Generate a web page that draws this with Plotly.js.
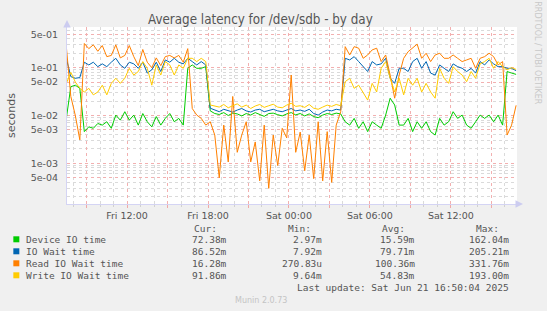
<!DOCTYPE html>
<html>
<head>
<meta charset="utf-8">
<script src="https://cdn.plot.ly/plotly-3.0.1.min.js"></script>
<style>html,body{margin:0;padding:0;background:#F0F0F0;}#chart{width:547px;height:311px;}</style>
</head>
<body>
<div id="chart"></div>
<script>
// ---- data (20-minute samples from Fri 2025-06-20 07:30) ----
const seriesStart = '2025-06-20T07:30:00Z';
const stepMinutes = 20;

const seriesNames = ['Device IO time', 'IO Wait time', 'Read IO Wait time', 'Write IO Wait time'];
const seriesColors = ['#00CC00', '#0066B3', '#FF8000', '#FFCC00'];

const deviceIO = [0.0087,0.04,0.043,0.037,0.0046,0.0058,0.0054,0.0068,0.0063,0.0074,
  0.0054,0.0102,0.008,0.012,0.008,0.0102,0.0063,0.011,0.0074,0.0058,
  0.0095,0.0063,0.0087,0.011,0.0074,0.0087,0.0063,0.097,0.114,0.097,
  0.097,0.105,0.0125,0.011,0.0105,0.0115,0.01,0.0112,0.0108,0.0098,
  0.011,0.0102,0.0115,0.0105,0.0096,0.011,0.0112,0.0104,0.0098,0.0108,
  0.0115,0.0103,0.011,0.0098,0.0108,0.0095,0.009,0.0102,0.011,0.0105,
  0.0112,0.0108,0.0074,0.0063,0.0087,0.0054,0.0074,0.0046,0.0074,0.0063,
  0.0054,0.0102,0.023,0.0166,0.0063,0.0063,0.0087,0.0046,0.0074,0.0054,
  0.0074,0.0046,0.0039,0.0087,0.0063,0.0074,0.012,0.0087,0.0102,0.0063,
  0.0054,0.0074,0.0102,0.0087,0.0102,0.0074,0.0102,0.0063,0.083,0.077,
  0.0724];

const ioWait = [0.157,0.065,0.06,0.062,0.13,0.114,0.13,0.105,0.12,0.105,
  0.13,0.157,0.114,0.097,0.13,0.12,0.097,0.13,0.077,0.09,
  0.13,0.083,0.145,0.13,0.157,0.13,0.12,0.157,0.134,0.114,
  0.134,0.114,0.0142,0.013,0.012,0.0135,0.0125,0.0118,0.013,0.014,
  0.0125,0.0118,0.013,0.0135,0.012,0.0128,0.0135,0.0125,0.012,0.013,
  0.014,0.0125,0.013,0.0122,0.0135,0.011,0.0102,0.0118,0.013,0.0125,
  0.0135,0.013,0.157,0.145,0.17,0.134,0.105,0.083,0.134,0.114,
  0.12,0.157,0.06,0.047,0.097,0.097,0.083,0.134,0.157,0.097,
  0.134,0.077,0.07,0.114,0.097,0.083,0.12,0.105,0.097,0.083,
  0.097,0.077,0.134,0.114,0.145,0.12,0.105,0.105,0.097,0.097,
  0.0865];

const readWait = [0.275,0.025,0.01,0.0031,0.32,0.25,0.3,0.22,0.29,0.17,
  0.18,0.3,0.16,0.18,0.29,0.17,0.11,0.24,0.13,0.1,
  0.16,0.11,0.17,0.18,0.16,0.18,0.13,0.25,0.014,0.0102,
  0.0087,0.0063,0.0074,0.0039,0.0005,0.0063,0.00107,0.025,0.0017,0.0039,
  0.0074,0.00107,0.0028,0.00043,0.0063,0.0003,0.0039,0.0009,0.0054,0.0034,
  0.07,0.0017,0.0045,0.0007,0.0039,0.00048,0.0074,0.00043,0.0046,0.0004,
  0.0063,0.012,0.275,0.184,0.275,0.255,0.157,0.184,0.235,0.255,
  0.134,0.184,0.07,0.023,0.07,0.157,0.216,0.255,0.31,0.157,
  0.2,0.134,0.184,0.2,0.157,0.157,0.184,0.157,0.134,0.145,
  0.157,0.097,0.157,0.17,0.2,0.17,0.114,0.134,0.0039,0.0063,
  0.0163];

const writeWait = [0.047,0.08,0.05,0.037,0.031,0.037,0.027,0.031,0.043,0.027,
  0.047,0.06,0.047,0.06,0.097,0.07,0.083,0.134,0.097,0.043,
  0.114,0.07,0.134,0.114,0.07,0.114,0.097,0.157,0.157,0.134,
  0.157,0.134,0.0166,0.016,0.015,0.017,0.0145,0.016,0.0175,0.015,
  0.0165,0.014,0.0158,0.017,0.0148,0.016,0.0172,0.015,0.0145,0.0165,
  0.018,0.0155,0.016,0.0148,0.017,0.0142,0.0135,0.015,0.0165,0.0155,
  0.017,0.016,0.051,0.06,0.037,0.043,0.031,0.021,0.047,0.031,
  0.097,0.134,0.06,0.031,0.06,0.027,0.06,0.043,0.06,0.031,
  0.047,0.031,0.023,0.097,0.06,0.047,0.105,0.083,0.07,0.051,
  0.083,0.06,0.12,0.134,0.157,0.097,0.134,0.105,0.09,0.1,
  0.0919];

const statCur = ['72.38m', '86.52m', '16.28m', '91.86m'];
const statMin = ['2.97m', '7.92m', '270.83u', '9.64m'];
const statAvg = ['15.59m', '79.71m', '100.36m', '54.83m'];
const statMax = ['162.04m', '205.21m', '331.76m', '193.00m'];

const xTickVals = ['2025-06-20 09:00','2025-06-20 12:00','2025-06-20 15:00','2025-06-20 18:00',
  '2025-06-20 21:00','2025-06-21 00:00','2025-06-21 03:00','2025-06-21 06:00',
  '2025-06-21 09:00','2025-06-21 12:00','2025-06-21 15:00'];
const xTickText = ['','Fri 12:00','','Fri 18:00','','Sat 00:00','','Sat 06:00','','Sat 12:00',''];

const yTickVals = [5e-4, 1e-3, 5e-3, 1e-2, 5e-2, 1e-1, 5e-1];
const yTickText = ['5e-04', '1e-03', '5e-03', '1e-02', '5e-02', '1e-01', '5e-01'];
const yMinorVals = [2e-4,3e-4,4e-4,6e-4,7e-4,8e-4,9e-4,
  2e-3,3e-3,4e-3,6e-3,7e-3,8e-3,9e-3,
  2e-2,3e-2,4e-2,6e-2,7e-2,8e-2,9e-2,
  2e-1,3e-1,4e-1,6e-1,7e-1];

const chartTitle = 'Average latency for /dev/sdb - by day';
const lastUpdate = 'Last update: Sat Jun 21 16:50:04 2025';
const footer = 'Munin 2.0.73';

// ---- build ----
function timeAxis(n) {
  const t0 = Date.parse(seriesStart);
  const out = [];
  for (let i = 0; i < n; i++) {
    out.push(new Date(t0 + i * stepMinutes * 60000).toISOString().slice(0, 16).replace('T', ' '));
  }
  return out;
}
const allSeries = [deviceIO, ioWait, readWait, writeWait];
const traces = allSeries.map((vals, k) => ({
  type: 'scatter', mode: 'lines', name: seriesNames[k],
  x: timeAxis(vals.length), y: vals,
  line: {color: seriesColors[k], width: 1}, hoverinfo: 'skip'
}));

// pixel helpers for layout text (plot area 66.7..517 x 27..204)
const PL = 66.7, PR = 517, PT = 27, PB = 204;
const px = x => (x - PL) / (PR - PL);
const py = y => (PB - y) / (PB - PT);

const mono = {family: 'DejaVu Sans Mono', size: 9.5, color: '#555555'};
const ann = [];
function txt(text, x, y, anchor, font) {
  ann.push({text: text, xref: 'paper', yref: 'paper', x: px(x), y: py(y),
    xanchor: anchor, yanchor: 'middle', showarrow: false, font: font || mono, borderpad: 0});
}
txt('Cur:', 193, 228.3, 'left');
txt('Min:', 287, 228.3, 'left');
txt('Avg:', 381, 228.3, 'left');
txt('Max:', 475, 228.3, 'left');
const shapes = [];
const rowY = [239.3, 251.3, 263.3, 275.3];
for (let k = 0; k < 4; k++) {
  const y = rowY[k];
  shapes.push({type: 'rect', xref: 'paper', yref: 'paper', x0: px(13), x1: px(19), y0: py(y + 3), y1: py(y - 3),
    fillcolor: seriesColors[k], line: {width: 0}});
  txt(seriesNames[k], 25, y, 'left');
  txt(statCur[k], 228, y, 'right');
  txt(statMin[k], 322.5, y, 'right');
  txt(statAvg[k], 416, y, 'right');
  txt(statMax[k], 509.5, y, 'right');
}
txt(lastUpdate, 509.5, 287.3, 'right');
txt(footer, 260.7, 300.3, 'center', {family: 'DejaVu Sans', size: 8, color: '#C4C4C4'});
ann.push({text: 'RRDTOOL / TOBI OETIKER', xref: 'paper', yref: 'paper', x: px(537.7), y: py(53),
  xanchor: 'center', yanchor: 'middle', textangle: 90, showarrow: false,
  font: {family: 'DejaVu Sans', size: 8, color: '#C8C8C8'}});
// axis arrows
ann.push({text: '', xref: 'paper', yref: 'paper', x: 0, y: py(20), ax: 0, ay: 8, showarrow: true,
  arrowhead: 2, arrowsize: 1, arrowwidth: 1.5, arrowcolor: '#CCCCF0'});
ann.push({text: '', xref: 'paper', yref: 'paper', x: px(523), y: 0, ax: -8, ay: 0, showarrow: true,
  arrowhead: 2, arrowsize: 1, arrowwidth: 1.5, arrowcolor: '#CCCCF0'});

const tickFont = {family: 'DejaVu Sans', size: 9.5, color: '#555555'};
const layout = {
  width: 547, height: 311,
  paper_bgcolor: '#F0F0F0', plot_bgcolor: '#FFFFFF',
  margin: {l: PL, r: 547 - PR, t: PT, b: 311 - PB, pad: 0},
  showlegend: false,
  title: {text: chartTitle, xref: 'container', yref: 'container',
    x: 148 / 547, y: 1 - 19 / 311, xanchor: 'left', yanchor: 'middle',
    font: {family: 'DejaVu Sans Condensed', size: 13.3, color: '#555555'}},
  xaxis: {type: 'date', range: ['2025-06-20 07:33', '2025-06-21 16:54'],
    tickmode: 'array', tickvals: xTickVals, ticktext: xTickText,
    showgrid: true, gridcolor: '#F2B0B0', griddash: 'dot', gridwidth: 1,
    ticks: 'outside', ticklen: 3, tickcolor: '#F0A8A8', tickfont: tickFont,
    showline: true, linecolor: '#D4D4F4', linewidth: 1, zeroline: false,
    minor: {dtick: 3600000, showgrid: true, gridcolor: '#DADADA', griddash: 'dot', gridwidth: 1,
      ticks: 'outside', ticklen: 2, tickcolor: '#D0D0D0'},
    fixedrange: true},
  yaxis: {type: 'log', range: [-3.85, -0.15],
    tickmode: 'array', tickvals: yTickVals, ticktext: yTickText,
    showgrid: true, gridcolor: '#F2B0B0', griddash: 'dot', gridwidth: 1,
    ticks: '', tickfont: tickFont, ticklabelstandoff: 6,
    showline: true, linecolor: '#D4D4F4', linewidth: 1, zeroline: false,
    minor: {tickmode: 'array', tickvals: yMinorVals, showgrid: true, gridcolor: '#DADADA', griddash: 'dot', gridwidth: 1},
    title: {text: 'seconds', font: {family: 'DejaVu Sans', size: 11, color: '#555555'}, standoff: 12},
    fixedrange: true},
  annotations: ann,
  shapes: shapes
};
Plotly.newPlot('chart', traces, layout, {displayModeBar: false, staticPlot: true});
</script>
</body>
</html>
